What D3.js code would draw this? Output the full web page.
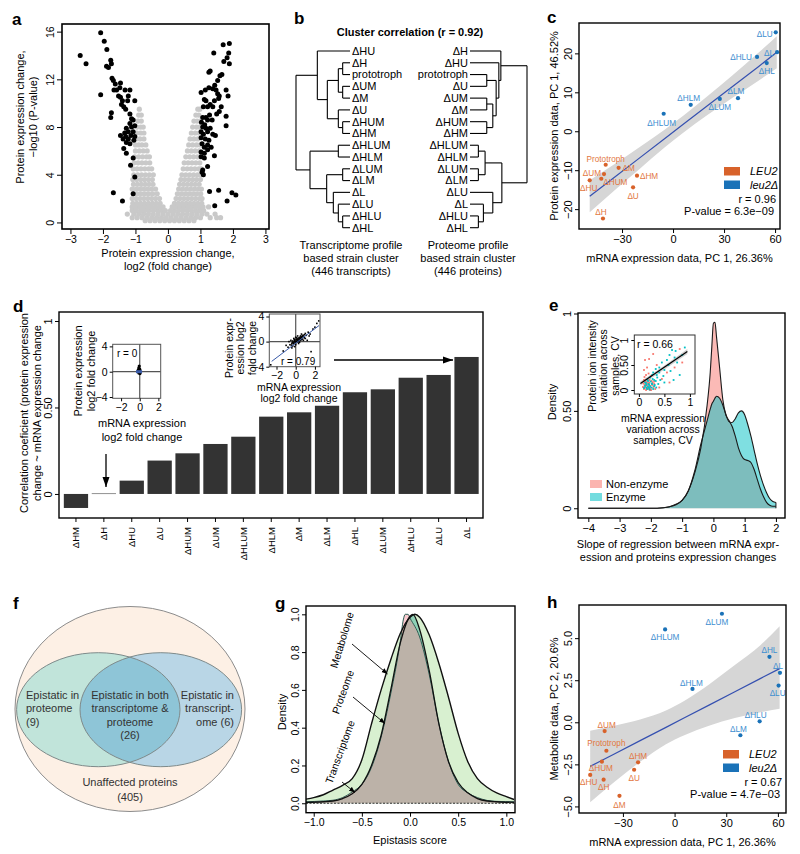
<!DOCTYPE html>
<html><head><meta charset="utf-8">
<script src="https://cdn.jsdelivr.net/npm/d3@7"></script>
<style>body{margin:0;background:#fff} svg{font-family:"Liberation Sans",Arial,Helvetica,sans-serif}</style>
</head><body>
<svg id="fig" width="800" height="854"></svg>
<script>
// ================= DATA =================
// Panel a: volcano plot (log2 fold change, -log10 P)
const volcanoBlack = [
[-2.70,14.0],[-2.52,13.3],[-2.07,15.9],[-1.96,15.2],[-1.88,14.5],[-1.89,13.1],[-1.83,13.0],[-1.76,13.6],[-1.74,13.3],
[-2.07,10.7],[-1.72,12.1],[-1.68,11.9],[-1.62,11.6],[-1.66,11.1],[-1.58,11.1],[-1.48,11.3],[-1.46,11.7],[-1.52,10.6],
[-1.46,10.5],[-1.40,10.2],[-1.43,9.9],[-1.36,9.7],[-1.30,9.5],[-1.24,10.2],[-1.22,10.6],[-1.32,11.1],[-1.17,11.1],
[-1.02,10.2],[-1.74,9.2],[-1.76,8.8],[-1.17,9.1],[-1.12,8.7],[-1.07,8.6],[-1.17,8.3],[-1.12,8.0],[-1.02,8.1],[-1.28,7.9],
[-1.22,7.6],[-1.07,7.6],[-1.14,7.3],[-1.02,7.2],[-1.46,7.3],[-1.33,7.5],[-1.30,7.2],[-1.38,7.0],[-1.36,6.2],[-1.17,6.6],
[-1.28,5.8],[-1.07,5.4],[-1.15,4.8],[-1.02,3.8],[-1.68,2.5],[-1.07,2.4],[-1.40,1.8],[-1.28,6.7],[-1.05,6.9],[-1.22,7.0],
[1.70,14.9],[1.89,15.0],[1.41,14.2],[1.87,14.2],[1.89,13.3],[1.72,13.5],[1.82,13.8],[1.26,12.6],[1.30,12.7],[1.53,11.9],
[1.60,12.3],[1.66,12.4],[1.02,10.9],[1.15,11.1],[1.26,11.3],[1.38,11.2],[1.44,11.5],[1.48,11.1],[1.53,10.8],[1.58,10.6],
[1.56,10.4],[1.79,11.1],[1.85,10.6],[1.12,10.3],[1.17,10.2],[1.09,9.7],[1.22,9.7],[1.30,9.9],[1.38,9.7],[1.43,10.2],
[1.64,9.7],[1.58,9.3],[1.50,9.1],[1.28,9.0],[1.17,8.8],[1.07,8.8],[1.03,8.4],[1.13,8.2],[1.22,8.6],[1.36,8.6],[1.07,8.0],
[1.17,7.9],[1.02,7.6],[1.09,7.4],[1.22,7.6],[1.30,7.9],[1.79,8.9],[1.38,7.4],[1.46,7.3],[1.02,7.1],[1.15,7.0],[1.26,6.9],
[1.05,6.6],[1.12,6.3],[1.22,6.1],[1.02,5.9],[1.02,5.5],[1.12,5.4],[1.43,5.6],[1.22,4.7],[1.07,4.4],[1.09,4.0],[1.05,4.2],
[1.79,8.1],[1.28,2.6],[1.56,2.7],[1.97,2.5],[2.09,2.3],[1.82,1.8],[1.44,1.4],[1.22,6.5],[1.33,6.3],[1.12,5.8]];
const volcanoGrey = [
[0.15,[-0.7,-0.55,-0.4,-0.25,-0.1,0.05,0.2,0.35,0.5,0.65,0.8]],
[0.4,[-1.1,-0.95,-0.8,-0.65,-0.5,-0.35,-0.2,-0.05,0.1,0.25,0.4,0.55,0.7,0.85,1.0,1.3,1.5,1.62]],
[0.7,[-1.25,-1.05,-0.9,-0.75,-0.6,-0.45,-0.3,-0.15,0,0.15,0.3,0.45,0.6,0.75,0.9,1.05,1.2,1.45]],
[1.0,[-1.1,-0.97,-0.84,-0.71,-0.58,-0.45,-0.32,-0.19,-0.08,0.08,0.2,0.33,0.46,0.59,0.72,0.85,0.98,1.1]],
[1.3,[-1.1,-0.98,-0.86,-0.74,-0.62,-0.5,-0.38,-0.26,-0.15,0.13,0.25,0.37,0.49,0.61,0.73,0.85,0.97,1.08,1.25]],
[1.6,[-1.08,-0.96,-0.84,-0.72,-0.6,-0.48,-0.36,-0.24,0.2,0.32,0.44,0.56,0.68,0.8,0.92,1.04]],
[2.0,[-1.1,-0.98,-0.86,-0.74,-0.62,-0.5,-0.38,-0.26,0.25,0.37,0.49,0.61,0.73,0.85,0.97,1.05]],
[2.4,[-1.07,-0.95,-0.83,-0.71,-0.59,-0.47,-0.33,0.29,0.41,0.53,0.65,0.77,0.89,1.01]],
[2.8,[-1.1,-0.98,-0.86,-0.74,-0.62,-0.5,-0.38,0.33,0.45,0.57,0.69,0.81,0.93,1.03]],
[3.2,[-1.06,-0.94,-0.82,-0.7,-0.58,-0.46,0.36,0.48,0.6,0.72,0.84,0.96]],
[3.6,[-1.08,-0.96,-0.84,-0.72,-0.6,-0.48,0.4,0.52,0.64,0.76,0.88,1.0]],
[4.0,[-1.05,-0.93,-0.81,-0.69,-0.57,-0.45,0.43,0.55,0.67,0.79,0.91,1.01]],
[4.5,[-1.07,-0.95,-0.83,-0.71,-0.59,-0.5,0.47,0.59,0.71,0.83,0.95,1.02]],
[5.0,[-1.04,-0.92,-0.8,-0.68,-0.56,0.5,0.62,0.74,0.86,0.98]],
[5.5,[-1.02,-0.9,-0.78,-0.66,-0.57,0.55,0.67,0.79,0.91,1.0]],
[6.0,[-1.0,-0.88,-0.76,-0.64,0.6,0.72,0.84,0.96]],
[6.5,[-1.0,-0.9,-0.8,-0.68,0.64,0.76,0.88,0.99]],
[7.0,[-0.98,-0.86,-0.74,0.68,0.8,0.92]],
[7.5,[-0.96,-0.84,-0.74,0.72,0.84,0.96]],
[8.0,[-0.95,-0.84,-0.76,0.76,0.88,0.98]],
[8.5,[-0.92,-0.82,0.8,0.9,0.99]],
[9.0,[-0.9,-0.82,0.86,0.95]],
[9.5,[-0.88,0.92,0.98]]];
const volcanoXTicks = [-3,-2,-1,0,1,2,3];
const volcanoYTicks = [0,4,8,12,16];

// Panel b: dendrograms (merge heights)
const treeTranscriptome = {h:162,c:[
  {h:98,c:[{n:"ΔHU"},{h:68,c:[
     {h:35,c:[{h:22,c:[{n:"ΔH"},{n:"prototroph"}]},{h:22,c:[{n:"ΔUM"},{n:"ΔM"}]}]},
     {h:35,c:[{n:"ΔU"},{h:22,c:[{n:"ΔHUM"},{n:"ΔHM"}]}]}]}]},
  {h:120,c:[{h:35,c:[{n:"ΔHLUM"},{n:"ΔHLM"}]},
     {h:70,c:[{h:22,c:[{n:"ΔLUM"},{n:"ΔLM"}]},
        {h:50,c:[{n:"ΔL"},{h:35,c:[{n:"ΔLU"},{h:22,c:[{n:"ΔHLU"},{n:"ΔHL"}]}]}]}]}]}]};
const treeProteome = {h:170,c:[
  {h:92,c:[{n:"ΔH"},{h:86,c:[{n:"ΔHU"},{h:78,c:[{h:50,c:[{n:"prototroph"},{n:"ΔU"}]},
     {h:68,c:[{h:50,c:[{n:"ΔUM"},{n:"ΔM"}]},{h:50,c:[{n:"ΔHUM"},{n:"ΔHM"}]}]}]}]}]},
  {h:95,c:[{h:45,c:[{h:25,c:[{n:"ΔHLUM"},{n:"ΔHLM"}]},{h:25,c:[{n:"ΔLUM"},{n:"ΔLM"}]}]},
     {h:68,c:[{n:"ΔLU"},{h:40,c:[{n:"ΔL"},{h:25,c:[{n:"ΔHLU"},{n:"ΔHL"}]}]}]}]}]};

// Panels c & h: strains
const strains   = ["ΔLU","ΔL","ΔHLU","ΔHL","ΔLM","ΔLUM","ΔHLM","ΔHLUM","Prototroph","ΔM","ΔUM","ΔHUM","ΔHU","ΔHM","ΔU","ΔH"];
const strainGroup = ["leu2","leu2","leu2","leu2","leu2","leu2","leu2","leu2","LEU2","LEU2","LEU2","LEU2","LEU2","LEU2","LEU2","LEU2"];
const mrnaPC1   = [60.4,61.2,49.4,55.1,38.2,27.5,10.4,-5.5,-39.6,-32.0,-40.6,-42.2,-49.0,-21.2,-23.5,-41.2];
const protPC1   = [25.4,20.3,19.1,17.5,8.5,8.3,6.8,4.5,-8.6,-9.4,-11.0,-12.2,-12.6,-11.4,-14.4,-22.4];
const metabPC2  = [2.18,2.94,0.06,3.89,-0.77,6.45,1.98,5.52,-1.69,-4.37,-0.52,-2.34,-3.13,-2.38,-2.82,-3.41];
const fitX      = [-49,-35,-20,-5,6,20,35,50,61];
const fitProt   = [-16.7,-12.0,-6.96,-1.9,1.78,6.5,11.5,16.5,20.3];
const fitProtLo = [-20.8,-15.4,-9.8,-4.2,-0.4,4.1,8.6,12.9,16.2];
const fitProtHi = [-12.6,-8.6,-4.2,0.4,4.0,8.9,14.4,20.1,24.4];
const fitMet    = [-2.62,-1.88,-1.09,-0.30,0.28,1.02,1.81,2.61,3.19];
const fitMetLo  = [-4.75,-3.55,-2.35,-1.3,-0.75,-0.2,0.25,0.6,0.8];
const fitMetHi  = [-0.5,-0.2,0.17,0.7,1.3,2.25,3.4,4.6,5.7];
const pcXTicks = [-30,0,30,60];
const protYTicks = [-20,-10,0,10,20];
const metYTicks = [-5,-2.5,0,2.5,5];

// Panel d: correlation bars
const dCats = ["ΔHM","ΔH","ΔHU","ΔU","ΔHUM","ΔUM","ΔHLUM","ΔHLM","ΔM","ΔLM","ΔHL","ΔLUM","ΔHLU","ΔLU","ΔL"];
const dVals = [-0.081,0.004,0.077,0.193,0.235,0.289,0.331,0.447,0.472,0.510,0.588,0.605,0.672,0.688,0.792];
const dYTicks = [0,0.5,1];
const insetH = [[-0.1,0.6],[-0.15,0.3],[0,0.2],[-0.05,0],[0.05,-0.1],[-0.1,-0.2],[0,0.4],[-0.2,0.1],[-0.05,0.9],[0.02,-0.3]];
const insetL = [[-0.6,-0.5],[-0.4,-0.3],[-0.3,0.1],[-0.2,-0.2],[-0.1,0.2],[0,0],[0.1,-0.1],[0.2,0.3],[0.3,0.1],[0.4,0.5],
 [0.5,0.3],[0.6,0.6],[0.7,0.4],[0.8,0.9],[-0.5,0.2],[-0.2,0.5],[0.1,0.6],[0.3,-0.3],[0,-0.5],[-0.3,-0.7],[0.9,0.6],
 [1.1,1.0],[1.3,1.5],[1.5,1.2],[1.8,2.0],[2.2,2.9],[2.4,3.3],[-0.8,-0.9],[-1.0,-0.6],[0.5,0.9],[0.2,0.9],[-0.1,-0.8],
 [1.6,-1.6],[1.2,0.2],[-0.7,0.0],[0.6,1.2],[0.4,-0.1],[1.0,0.5],[-0.4,-1.0],[0.8,0.2],[-1.3,-1.5],[2.0,2.3],[-2.6,-3.7],
 [0.15,0.15],[-0.15,-0.05],[0.35,0.35],[0.05,0.35],[-0.35,-0.15],[0.25,-0.05],[0.45,0.2],[-0.05,-0.3],[0.65,0.85],[1.4,0.9],
 [0.1,0.05],[0.2,0.15],[0.3,0.25],[-0.1,0.05],[0.05,-0.15],[0.15,0.4],[0.35,0.6],[0.5,0.55],[0.45,0.7],[0.25,0.5],
 [-0.25,-0.35],[-0.45,-0.55],[0.55,0.75],[0.7,0.75],[0.9,1.1],[1.0,1.3],[0.75,1.0],[-0.15,0.35],[0.0,0.7],[0.6,0.3]];

// Panel e: slope densities
const eX       = [-4,-2,-1.6,-1.4,-1.2,-1.0,-0.8,-0.6,-0.4,-0.2,-0.1,-0.05,0,0.05,0.1,0.2,0.3,0.4,0.5,0.6,0.7,0.8,0.9,1.0,1.1,1.2,1.3,1.4,1.5,1.6,1.7,1.8,1.9,2.0];
const eNonEnz  = [0,0,0.003,0.008,0.02,0.04,0.09,0.18,0.31,0.53,0.70,0.83,0.95,0.955,0.88,0.72,0.56,0.48,0.45,0.42,0.37,0.31,0.27,0.25,0.245,0.235,0.20,0.15,0.10,0.06,0.03,0.015,0.01,0.01];
const eEnzyme  = [0,0,0.003,0.008,0.018,0.04,0.09,0.19,0.33,0.45,0.51,0.535,0.55,0.565,0.575,0.565,0.53,0.48,0.445,0.44,0.46,0.49,0.50,0.48,0.43,0.37,0.30,0.23,0.17,0.12,0.08,0.05,0.035,0.03];
const eXTicks = [-4,-3,-2,-1,0,1,2];
const eYTicks = [0,0.5,1];
const cvNonEnz = [[0.12,0.05],[0.15,0.1],[0.18,0.02],[0.2,0.15],[0.1,0.2],[0.14,0.3],[0.22,0.08],[0.25,0.18],[0.3,0.12],
 [0.16,0.45],[0.2,0.62],[0.35,0.5],[0.45,0.22],[0.55,0.35],[0.7,0.45],[0.8,0.82],[0.85,0.55],[0.12,0.6],[0.28,0.72],
 [0.6,0.15],[0.4,0.05],[0.13,0.12],[0.17,0.22],[0.24,0.28],[0.19,0.05],[0.1,0.02],[0.22,0.0],[0.16,0.16],
 [0.08,0.06],[0.11,0.1],[0.14,0.0],[0.17,0.08],[0.2,0.12],[0.23,0.04],[0.26,0.1],[0.29,0.06],[0.32,0.02],[0.09,0.13],
 [0.13,0.17],[0.18,0.13],[0.21,0.2],[0.27,0.15],[0.15,0.03],[0.24,0.0],[0.3,0.17],[0.11,0.26],[0.19,0.33],[0.1,0.4]];
const cvEnzyme = [[0.15,0.05],[0.2,0.1],[0.25,0.05],[0.18,0.18],[0.3,0.2],[0.35,0.3],[0.4,0.45],[0.45,0.55],[0.5,0.4],
 [0.55,0.6],[0.6,0.7],[0.65,0.8],[0.7,0.65],[0.75,0.55],[0.9,0.85],[0.85,0.7],[0.5,0.15],[0.3,0.08],[0.22,0.25],
 [0.28,0.35],[0.42,0.2],[0.62,0.38],[0.8,0.3],[0.12,0.08],[0.38,0.12],[0.58,0.5],[0.72,0.78],[0.33,0.42],[0.48,0.28],
 [0.68,0.2],[0.14,0.14],[0.26,0.12],[0.2,0.04],
 [0.1,0.04],[0.13,0.09],[0.16,0.02],[0.19,0.12],[0.22,0.07],[0.25,0.13],[0.28,0.02],[0.31,0.1],[0.34,0.05],[0.12,0.15],
 [0.17,0.2],[0.23,0.17],[0.27,0.22],[0.15,0.11],[0.21,0.01],[0.33,0.18],[0.36,0.25],[0.18,0.06],[0.4,0.35],[0.26,0.3]];

// Panel f: Venn counts
const vennLabels = {left:["Epistatic in","proteome","(9)"], both:["Epistatic in both","transcriptome &","proteome","(26)"],
  right:["Epistatic in","transcript-","ome (6)"], outer:["Unaffected proteins","(405)"]};

// Panel g: epistasis score densities (scaled to max 1)
const gXMet   = [-1.08,-1.0,-0.9,-0.8,-0.7,-0.6,-0.5,-0.4,-0.3,-0.2,-0.1,0,0.05,0.1,0.2,0.3,0.4,0.5,0.6,0.7,0.8,0.9,1.0,1.08];
const gMet    = [0.022,0.03,0.045,0.07,0.095,0.13,0.23,0.42,0.6,0.76,0.9,0.985,1.0,0.985,0.89,0.74,0.56,0.37,0.22,0.13,0.085,0.055,0.035,0.02];
const gXProt  = [-1.08,-0.9,-0.8,-0.7,-0.6,-0.5,-0.4,-0.3,-0.2,-0.1,0,0.03,0.1,0.2,0.3,0.4,0.5,0.6,0.7,0.8,0.9,1.08];
const gProt   = [0.005,0.008,0.012,0.025,0.05,0.1,0.2,0.36,0.6,0.85,0.99,1.0,0.92,0.7,0.42,0.22,0.11,0.055,0.025,0.012,0.008,0.005];
const gXTrans = [-1.08,-0.9,-0.8,-0.7,-0.6,-0.5,-0.4,-0.3,-0.2,-0.1,-0.07,-0.05,-0.02,0,0.1,0.2,0.3,0.4,0.5,0.6,0.7,0.8,0.9,1.08];
const gTrans  = [0.008,0.012,0.016,0.03,0.06,0.1,0.19,0.35,0.58,0.86,0.97,1.0,1.0,0.98,0.88,0.68,0.42,0.22,0.1,0.055,0.03,0.015,0.01,0.008];
const gXTicks = [-1,-0.5,0,0.5,1];
const gYTicks = [0,0.2,0.4,0.6,0.8,1.0];

// ================= DRAWING =================
const svg = d3.select("#fig");
const ORANGE = "#D8622A", BLUE = "#1A72B8", ORANGE_T = "#E2773F", BLUE_T = "#3D8ED0";

const defs = svg.append("defs");
defs.append("marker").attr("id","arrowBig").attr("viewBox","0 0 10 10").attr("refX",10).attr("refY",5)
  .attr("markerWidth",10).attr("markerHeight",10).attr("markerUnits","userSpaceOnUse").attr("orient","auto")
  .append("path").attr("d","M0,1.5 L10,5 L0,8.5 z").attr("fill","#000");
defs.append("marker").attr("id","arrowSmall").attr("viewBox","0 0 10 10").attr("refX",10).attr("refY",5)
  .attr("markerWidth",6).attr("markerHeight",6).attr("markerUnits","userSpaceOnUse").attr("orient","auto")
  .append("path").attr("d","M0,1 L10,5 L0,9 z").attr("fill","#000");

function txt(g, x, y, s, o={}) {
  const t = g.append("text").attr("x",x).attr("y",y).text(s)
    .attr("font-size", o.size||11).attr("text-anchor", o.anchor||"start").attr("dy", o.dy==null?"0.35em":o.dy);
  if (o.weight) t.attr("font-weight",o.weight);
  if (o.fill) t.attr("fill",o.fill);
  if (o.style) t.attr("font-style",o.style);
  return t;
}
function vtxt(g, x, y, s, size=11, rot=-90) {
  return g.append("text").attr("transform",`translate(${x},${y}) rotate(${rot})`).attr("text-anchor","middle")
    .attr("dy","0.35em").attr("font-size",size).text(s);
}
function panelLabel(s, x, y){ svg.append("text").attr("x",x).attr("y",y).attr("font-size",17).attr("font-weight","bold").text(s); }

function xAxis(g, scale, y, ticks, fmt, size=11, tl=4) {
  const a = g.append("g").attr("transform",`translate(0,${y})`)
    .call(d3.axisBottom(scale).tickValues(ticks).tickFormat(fmt).tickSize(tl).tickSizeOuter(0).tickPadding(2));
  a.select(".domain").remove();
  a.attr("font-family",null).attr("font-size",null);
  a.selectAll("text").attr("font-size",size).attr("fill","#000");
  a.selectAll("line").attr("stroke","#000");
  return a;
}
function yAxis(g, scale, x, ticks, fmt, size=11, tl=4, rotate=true) {
  const a = g.append("g").attr("transform",`translate(${x},0)`)
    .call(d3.axisLeft(scale).tickValues(ticks).tickFormat(fmt).tickSize(tl).tickSizeOuter(0).tickPadding(2));
  a.select(".domain").remove();
  a.attr("font-family",null).attr("font-size",null);
  a.selectAll("line").attr("stroke","#000");
  const t = a.selectAll("text").attr("font-size",size).attr("fill","#000");
  if (rotate) t.attr("x",0).attr("dy",0).attr("text-anchor","middle").attr("transform",`translate(${-tl-3},0) rotate(-90)`);
  return a;
}
function box(g, x0, y0, x1, y1, sw=1.4, stroke="#000") {
  g.append("rect").attr("x",x0).attr("y",y0).attr("width",x1-x0).attr("height",y1-y0)
    .attr("fill","none").attr("stroke",stroke).attr("stroke-width",sw);
}

// ---------- Panel a ----------
{
  const g = svg.append("g");
  const x = d3.scaleLinear().domain([-3.26,3.11]).range([62,269]);
  const y = d3.scaleLinear().domain([-0.55,16.64]).range([229,24]);
  const grey = volcanoGrey.flatMap(r => r[1].map(v => [v, r[0]]));
  g.selectAll("circle.g").data(grey).join("circle").attr("cx",d=>x(d[0])).attr("cy",d=>y(d[1])).attr("r",2.6).attr("fill","#C9C9C9");
  g.selectAll("circle.b").data(volcanoBlack).join("circle").attr("cx",d=>x(d[0])).attr("cy",d=>y(d[1])).attr("r",2.5).attr("fill","#000");
  box(g,62,24,269,229,1.6);
  xAxis(g,x,229,volcanoXTicks,d3.format("d"),10.5,5);
  yAxis(g,y,62,volcanoYTicks,d3.format("d"),10.5,5);
  vtxt(g,20,117,"Protein expression change,",11);
  vtxt(g,33,117,"−log10 (P-value)",11);
  txt(g,168,253,"Protein expression change,",{anchor:"middle"});
  txt(g,168,266,"log2 (fold change)",{anchor:"middle"});
  panelLabel("a",12,25);
}

// ---------- Panel b ----------
{
  const g = svg.append("g");
  txt(g,410,32,"Cluster correlation (r = 0.92)",{anchor:"middle",weight:"bold",size:11});
  function drawTree(tree, hScale, y0, step, side) {
    const root = d3.hierarchy(tree, d => d.c);
    root.leaves().forEach((l,i) => { l.py = y0 + i*step; });
    root.eachAfter(n => { if (n.children) n.py = (n.children[0].py + n.children[n.children.length-1].py)/2; });
    root.each(n => { n.px = hScale(n.data.h || 0); });
    root.descendants().forEach(n => {
      if (!n.children) return;
      const c0 = n.children[0], c1 = n.children[n.children.length-1];
      g.append("line").attr("x1",n.px).attr("x2",n.px).attr("y1",c0.py).attr("y2",c1.py).attr("stroke","#000").attr("stroke-width",1.1);
      n.children.forEach(c => g.append("line").attr("x1",n.px).attr("x2",c.px).attr("y1",c.py).attr("y2",c.py).attr("stroke","#000").attr("stroke-width",1.1));
    });
    root.leaves().forEach(l => {
      if (side === "left") txt(g, l.px+2, l.py, l.data.n, {size:11});
      else txt(g, l.px-2, l.py, l.data.n, {size:11, anchor:"end"});
    });
  }
  drawTree(treeTranscriptome, d3.scaleLinear().domain([0,162]).range([350,296]), 51, 11.78, "left");
  drawTree(treeProteome, d3.scaleLinear().domain([0,170]).range([470,527]), 51, 11.78, "right");
  ["Transcriptome profile","based strain cluster","(446 transcripts)"].forEach((s,i)=>txt(g,351,245+i*13.3,s,{anchor:"middle"}));
  ["Proteome profile","based strain cluster","(446 proteins)"].forEach((s,i)=>txt(g,468,245+i*13.3,s,{anchor:"middle"}));
  panelLabel("b",294,24);
}

// ---------- Panels c & h ----------
function drawPC(cfg) {
  const g = svg.append("g");
  const x = d3.scaleLinear().domain(cfg.xd).range([cfg.x0,cfg.x1]);
  const y = d3.scaleLinear().domain(cfg.yd).range([cfg.y1,cfg.y0]);
  const band = d3.area().x((d,i)=>x(fitX[i])).y0(d=>y(d[0])).y1(d=>y(d[1])).curve(d3.curveMonotoneX);
  g.append("path").datum(cfg.lo.map((v,i)=>[v,cfg.hi[i]])).attr("d",band).attr("fill","#D6D6D6");
  g.append("path").datum(cfg.fit).attr("d",d3.line().x((d,i)=>x(fitX[i])).y(d=>y(d))).attr("fill","none").attr("stroke","#3550B0").attr("stroke-width",1.2);
  strains.forEach((s,i) => {
    const px = x(mrnaPC1[i]), py = y(cfg.yv[i]);
    const leu = strainGroup[i] === "leu2";
    g.append("circle").attr("cx",px).attr("cy",py).attr("r",2.1).attr("fill",leu?BLUE:ORANGE);
    const o = cfg.lab[s];
    txt(g, px+o[0], py+o[1], s, {size:8.2, anchor:o[2]||"middle", fill:leu?BLUE_T:ORANGE_T});
  });
  box(g,cfg.x0,cfg.y0,cfg.x1,cfg.y1,1.4);
  xAxis(g,x,cfg.y1,pcXTicks,d3.format("d"),11,4);
  yAxis(g,y,cfg.x0,cfg.yt,cfg.yf,11,4);
  const lx = cfg.leg[0], ly = cfg.leg[1];
  g.append("rect").attr("x",lx).attr("y",ly).attr("width",16).attr("height",8.5).attr("fill",ORANGE);
  g.append("rect").attr("x",lx).attr("y",ly+13.5).attr("width",16).attr("height",8.5).attr("fill",BLUE);
  txt(g,lx+26,ly+4.5,"LEU2",{style:"italic",size:11});
  txt(g,lx+26,ly+18,"leu2Δ",{style:"italic",size:11});
  txt(g,cfg.x1-4,ly+32,cfg.r,{anchor:"end",size:11});
  txt(g,cfg.x1-6,ly+44,cfg.p,{anchor:"end",size:11});
  vtxt(g,cfg.x0-25,(cfg.y0+cfg.y1)/2,cfg.ytitle,11);
  txt(g,(cfg.x0+cfg.x1)/2,cfg.y1+29,"mRNA expression data, PC 1, 26.36%",{anchor:"middle"});
}
drawPC({x0:579,x1:780,y0:23,y1:229,xd:[-55.3,62.9],yd:[-25.1,27.8],yv:protPC1,fit:fitProt,lo:fitProtLo,hi:fitProtHi,
  yt:protYTicks,yf:d3.format("d"),leg:[724,167],r:"r = 0.96",p:"P-value = 6.3e−09",
  ytitle:"Protein expression data, PC 1, 46.52%",
  lab:{"ΔLU":[-3,1.5,"end"],"ΔL":[-3,1,"end"],"ΔHLU":[-5,0,"end"],"ΔHL":[0,8],"ΔLM":[-2,-7],"ΔLUM":[0,8],
       "ΔHLM":[-2,-7],"ΔHLUM":[-2,9],"Prototroph":[0,-6],"ΔM":[4,0,"start"],"ΔUM":[-3,-1,"end"],"ΔHUM":[2,3,"start"],
       "ΔHU":[-1,7.5],"ΔHM":[3,0.5,"start"],"ΔU":[0,9],"ΔH":[-2,-6.5]}});
drawPC({x0:579,x1:786,y0:605,y1:813,xd:[-55.5,64.7],yd:[-5.39,6.97],yv:metabPC2,fit:fitMet,lo:fitMetLo,hi:fitMetHi,
  yt:metYTicks,yf:d3.format(".1f"),leg:[723,750],r:"r = 0.67",p:"P-value = 4.7e−03",
  ytitle:"Metabolite data, PC 2, 20.6%",
  lab:{"ΔLUM":[-5,8],"ΔHLUM":[0,8],"ΔHL":[0,-6.5],"ΔL":[-2,-6.5],"ΔLU":[-1,8],"ΔHLM":[-1,-6],"ΔHLU":[-4,-6],
       "ΔLM":[-2,-6.5],"ΔUM":[2,-5.5],"Prototroph":[0,-7.5],"ΔHUM":[-1,6.5],"ΔHM":[0,-6.5],"ΔU":[0,8.5],
       "ΔHU":[-1.5,7],"ΔH":[0,7.5],"ΔM":[0,9]}});
panelLabel("c",547,23);
panelLabel("h",547,608);

// ---------- Panel d ----------
{
  const g = svg.append("g");
  const x = d3.scaleBand().domain(dCats).range([60.2,482.3]).padding(0.13);
  const y = d3.scaleLinear().domain([-0.139,1.052]).range([518,312]);
  g.selectAll("rect.bar").data(dVals).join("rect")
    .attr("x",(d,i)=>x(dCats[i])).attr("width",x.bandwidth())
    .attr("y",d=>y(Math.max(0,d))).attr("height",d=>Math.max(0.8,Math.abs(y(d)-y(0))))
    .attr("fill",(d,i)=>i===1?"#777":"#333333");
  box(g,59,312,483,518,1.4);
  const xa = xAxis(g,x,518,dCats,d=>d,9.5,4);
  xa.selectAll("text").attr("y",0).attr("dy","0.35em").attr("text-anchor","end").attr("transform","translate(0,9) rotate(-90)");
  yAxis(g,y,59,dYTicks,d=>d===0?"0":d===1?"1":"0.50",11,4);
  vtxt(g,24,413,"Correlation coeficient (protein expression",11);
  vtxt(g,37,413,"change ~ mRNA expression change",11);

  // inset 1 (ΔH)
  const ix = d3.scaleLinear().domain([-2.9,2.25]).range([112.7,160.7]);
  const iy = d3.scaleLinear().domain([-4.2,4.33]).range([398.3,344.3]);
  g.append("rect").attr("x",112.7).attr("y",344.3).attr("width",48).attr("height",54).attr("fill","#fff");
  g.append("line").attr("x1",ix(0)).attr("x2",ix(0)).attr("y1",344.3).attr("y2",398.3).attr("stroke","#555").attr("stroke-width",1.2);
  g.append("line").attr("x1",112.7).attr("x2",160.7).attr("y1",iy(0)).attr("y2",iy(0)).attr("stroke","#555").attr("stroke-width",1.2);
  g.selectAll("circle.i1").data(insetH).join("circle").attr("cx",d=>ix(d[0])).attr("cy",d=>iy(d[1])).attr("r",1.6).attr("fill","#000");
  g.append("line").attr("x1",ix(-0.4)).attr("x2",ix(0.25)).attr("y1",iy(0)).attr("y2",iy(0)).attr("stroke","#3A5BA9").attr("stroke-width",3);
  box(g,112.7,344.3,160.7,398.3,1,"#555");
  xAxis(g,ix,398.3,[-2,0,2],d3.format("d"),10.5,3);
  yAxis(g,iy,112.7,[-4,0,4],d3.format("d"),10.5,3,false);
  txt(g,117,353,"r = 0",{size:10});
  vtxt(g,78,371,"Protein expression",11);
  vtxt(g,91,371,"log2 fold change",11);
  txt(g,142,423,"mRNA expression",{anchor:"middle"});
  txt(g,142,437,"log2 fold change",{anchor:"middle"});
  g.append("line").attr("x1",106).attr("x2",106).attr("y1",454).attr("y2",487).attr("stroke","#000").attr("stroke-width",1.3).attr("marker-end","url(#arrowBig)");

  // inset 2 (ΔL)
  const jx = d3.scaleLinear().domain([-2.75,2.53]).range([269.3,320]);
  const jy = d3.scaleLinear().domain([-4.0,4.4]).range([366.7,314]);
  g.append("rect").attr("x",269.3).attr("y",314).attr("width",50.7).attr("height",52.7).attr("fill","#fff");
  g.append("line").attr("x1",jx(0)).attr("x2",jx(0)).attr("y1",314).attr("y2",366.7).attr("stroke","#555").attr("stroke-width",1.2);
  g.append("line").attr("x1",269.3).attr("x2",320).attr("y1",jy(0)).attr("y2",jy(0)).attr("stroke","#555").attr("stroke-width",1.2);
  g.selectAll("rect.i2").data(insetL).join("rect").attr("x",d=>jx(d[0])-0.8).attr("y",d=>jy(d[1])-0.8).attr("width",1.6).attr("height",1.6).attr("fill","#000");
  g.append("line").attr("x1",jx(-2.5)).attr("x2",jx(2.43)).attr("y1",jy(-3.15)).attr("y2",jy(2.56)).attr("stroke","#3A5BA9").attr("stroke-width",1);
  box(g,269.3,314,320,366.7,1,"#555");
  xAxis(g,jx,366.7,[-2,0,2],d3.format("d"),10.5,3);
  yAxis(g,jy,269.3,[-4,0,4],d3.format("d"),10.5,3,false);
  txt(g,281,361,"r = 0.79",{size:10});
  vtxt(g,229,348,"Protein expr-",10.5);
  vtxt(g,240.5,348,"ession log2",10.5);
  vtxt(g,252,348,"fold change",10.5);
  txt(g,299,387.5,"mRNA expression",{anchor:"middle",size:10.5});
  txt(g,299,398.5,"log2 fold change",{anchor:"middle",size:10.5});
  g.append("line").attr("x1",334).attr("x2",453).attr("y1",360).attr("y2",360).attr("stroke","#000").attr("stroke-width",1.3).attr("marker-end","url(#arrowBig)");
  panelLabel("d",13,312);
}

// ---------- Panel e ----------
{
  const g = svg.append("g");
  const x = d3.scaleLinear().domain([-4.33,2.29]).range([578,785]);
  const y = d3.scaleLinear().domain([-0.05,1.0026]).range([518,313]);
  const area = d3.area().x((d,i)=>x(eX[i])).y0(y(0)).y1(d=>y(d)).curve(d3.curveMonotoneX);
  const line = d3.line().x((d,i)=>x(eX[i])).y(d=>y(d)).curve(d3.curveMonotoneX);
  g.append("path").datum(eNonEnz).attr("d",area).attr("fill","#F8766D").attr("fill-opacity",0.5);
  g.append("path").datum(eEnzyme).attr("d",area).attr("fill","#00BFC4").attr("fill-opacity",0.5);
  g.append("path").datum(eNonEnz).attr("d",line).attr("fill","none").attr("stroke","#1a1a1a").attr("stroke-width",1.1);
  g.append("path").datum(eEnzyme).attr("d",line).attr("fill","none").attr("stroke","#1a1a1a").attr("stroke-width",1.1);
  g.append("line").attr("x1",x(2)).attr("x2",x(2)).attr("y1",y(0)).attr("y2",y(0.03)).attr("stroke","#1a1a1a");
  box(g,578,313,785,518,1.4);
  xAxis(g,x,518,eXTicks,d3.format("d"),11,4);
  yAxis(g,y,578,eYTicks,d=>d===0?"0":d===1?"1":"0.50",11,4);
  vtxt(g,552,402,"Density",11);
  txt(g,678,544,"Slope of regression between mRNA expr-",{anchor:"middle"});
  txt(g,678,557,"ession and proteins expression changes",{anchor:"middle"});
  g.append("rect").attr("x",590).attr("y",480).attr("width",12).attr("height",8).attr("fill","#F8766D").attr("fill-opacity",0.55);
  g.append("rect").attr("x",590).attr("y",493).attr("width",12).attr("height",8).attr("fill","#00BFC4").attr("fill-opacity",0.55);
  txt(g,606,484.5,"Non-enzyme",{size:11});
  txt(g,606,497.5,"Enzyme",{size:11});
  // inset
  const ix = d3.scaleLinear().domain([-0.09,1.1]).range([634.3,695]);
  const iy = d3.scaleLinear().domain([-0.08,1.1]).range([394,335]);
  g.append("rect").attr("x",634.3).attr("y",335).attr("width",60.7).attr("height",59).attr("fill","#fff");
  g.append("path").datum([[0.03,0.09,0.17],[0.5,0.41,0.49],[0.95,0.72,0.82]])
    .attr("d",d3.area().x(d=>ix(d[0])).y0(d=>iy(d[1])).y1(d=>iy(d[2]))).attr("fill","#D0D0D0");
  g.selectAll("rect.pn").data(cvNonEnz).join("rect").attr("x",d=>ix(d[0])-0.9).attr("y",d=>iy(d[1])-0.9).attr("width",1.8).attr("height",1.8).attr("fill","#F8766D");
  g.selectAll("rect.pe").data(cvEnzyme).join("rect").attr("x",d=>ix(d[0])-0.9).attr("y",d=>iy(d[1])-0.9).attr("width",1.8).attr("height",1.8).attr("fill","#00BFC4");
  g.append("line").attr("x1",ix(0.03)).attr("x2",ix(0.95)).attr("y1",iy(0.13)).attr("y2",iy(0.77)).attr("stroke","#000").attr("stroke-width",1.2);
  box(g,634.3,335,695,394,1,"#333");
  xAxis(g,ix,394,[0,0.5,1],d=>d===0?"0":d===1?"1":"0.5",10.5,3);
  yAxis(g,iy,634.3,[0,0.5,1],d=>d===0?"0":d===1?"1":"0.50",10.5,3);
  txt(g,637,344,"r = 0.66",{size:10.5});
  vtxt(g,592,366,"Protein ion intensity",10.5);
  vtxt(g,603.5,366,"variation across",10.5);
  vtxt(g,615,366,"samples, CV",10.5);
  txt(g,663,418.5,"mRNA expression",{anchor:"middle",size:10.5});
  txt(g,663,429.5,"variation across",{anchor:"middle",size:10.5});
  txt(g,663,440.5,"samples, CV",{anchor:"middle",size:10.5});
  panelLabel("e",549,311);
}

// ---------- Panel f ----------
{
  const g = svg.append("g");
  g.append("ellipse").attr("cx",130).attr("cy",709).attr("rx",115).attr("ry",102.5).attr("fill","#FDF0E5").attr("stroke","#8C8C8C").attr("stroke-width",1);
  defs.append("clipPath").attr("id","clipLeft").append("ellipse").attr("cx",98.3).attr("cy",709.7).attr("rx",81.7).attr("ry",57);
  g.append("ellipse").attr("cx",98.3).attr("cy",709.7).attr("rx",81.7).attr("ry",57).attr("fill","#C1E4DA");
  g.append("ellipse").attr("cx",160.8).attr("cy",709.7).attr("rx",80.8).attr("ry",57).attr("fill","#B9D6E6");
  g.append("ellipse").attr("cx",160.8).attr("cy",709.7).attr("rx",80.8).attr("ry",57).attr("fill","#8EC5D7").attr("clip-path","url(#clipLeft)");
  g.append("ellipse").attr("cx",98.3).attr("cy",709.7).attr("rx",81.7).attr("ry",57).attr("fill","none").attr("stroke","#7E8A8A").attr("stroke-width",1);
  g.append("ellipse").attr("cx",160.8).attr("cy",709.7).attr("rx",80.8).attr("ry",57).attr("fill","none").attr("stroke","#7E8A8A").attr("stroke-width",1);
  vennLabels.left.forEach((s,i)=>txt(g,26,695+i*13.5,s,{fill:"#333"}));
  vennLabels.both.forEach((s,i)=>txt(g,130,695+i*13.5,s,{anchor:"middle",fill:"#333"}));
  vennLabels.right.forEach((s,i)=>txt(g,234,695+i*13.5,s,{anchor:"end",fill:"#333"}));
  vennLabels.outer.forEach((s,i)=>txt(g,130,782+i*15,s,{anchor:"middle",fill:"#333"}));
  panelLabel("f",13,609);
}

// ---------- Panel g ----------
{
  const g = svg.append("g");
  const x = d3.scaleLinear().domain([-1.08,1.09]).range([306,515]);
  const y = d3.scaleLinear().domain([-0.05,1.044]).range([812.7,606]);
  defs.append("clipPath").attr("id","clipG").append("rect").attr("x",306).attr("y",606).attr("width",209).attr("height",206.7);
  const cg = g.append("g").attr("clip-path","url(#clipG)");
  const mk = (xs) => d3.area().x((d,i)=>x(xs[i])).y0(y(0)).y1(d=>y(d)).curve(d3.curveMonotoneX);
  const ml = (xs) => d3.line().x((d,i)=>x(xs[i])).y(d=>y(d)).curve(d3.curveMonotoneX);
  cg.append("path").datum(gMet).attr("d",mk(gXMet)).attr("fill","#D8F0D0");
  cg.append("path").datum(gProt).attr("d",mk(gXProt)).attr("fill","rgb(56,170,150)").attr("fill-opacity",0.45);
  cg.append("path").datum(gTrans).attr("d",mk(gXTrans)).attr("fill","rgb(245,140,150)").attr("fill-opacity",0.45);
  cg.append("line").attr("x1",306).attr("x2",515).attr("y1",y(0)).attr("y2",y(0)).attr("stroke","#333").attr("stroke-width",1).attr("stroke-dasharray","2,1.5");
  cg.append("path").datum(gTrans).attr("d",ml(gXTrans)).attr("fill","none").attr("stroke","#2f5f55").attr("stroke-width",1);
  cg.append("path").datum(gProt).attr("d",ml(gXProt)).attr("fill","none").attr("stroke","#111").attr("stroke-width",1.3);
  cg.append("path").datum(gMet).attr("d",ml(gXMet)).attr("fill","none").attr("stroke","#111").attr("stroke-width",1.4);
  box(g,306,606,515,812.7,1.4);
  xAxis(g,x,812.7,gXTicks,d3.format(".1f"),10.5,4);
  yAxis(g,y,306,gYTicks,d3.format(".1f"),10.5,4);
  vtxt(g,282,712,"Density",11);
  txt(g,410,840,"Epistasis score",{anchor:"middle"});
  vtxt(g,342,640,"Metabolome",10.5,-73);
  vtxt(g,343,692,"Proteome",10.5,-70);
  vtxt(g,340,752,"Transcriptome",10.5,-70);
  g.append("line").attr("x1",352).attr("y1",644).attr("x2",387.5).attr("y2",674).attr("stroke","#000").attr("stroke-width",0.9).attr("marker-end","url(#arrowSmall)");
  g.append("line").attr("x1",353).attr("y1",697).attr("x2",385).attr("y2",723.5).attr("stroke","#000").attr("stroke-width",0.9).attr("marker-end","url(#arrowSmall)");
  g.append("line").attr("x1",342).attr("y1",782).attr("x2",355).attr("y2",792.5).attr("stroke","#000").attr("stroke-width",0.9).attr("marker-end","url(#arrowSmall)");
  panelLabel("g",275,609);
}
</script>
</body></html>
